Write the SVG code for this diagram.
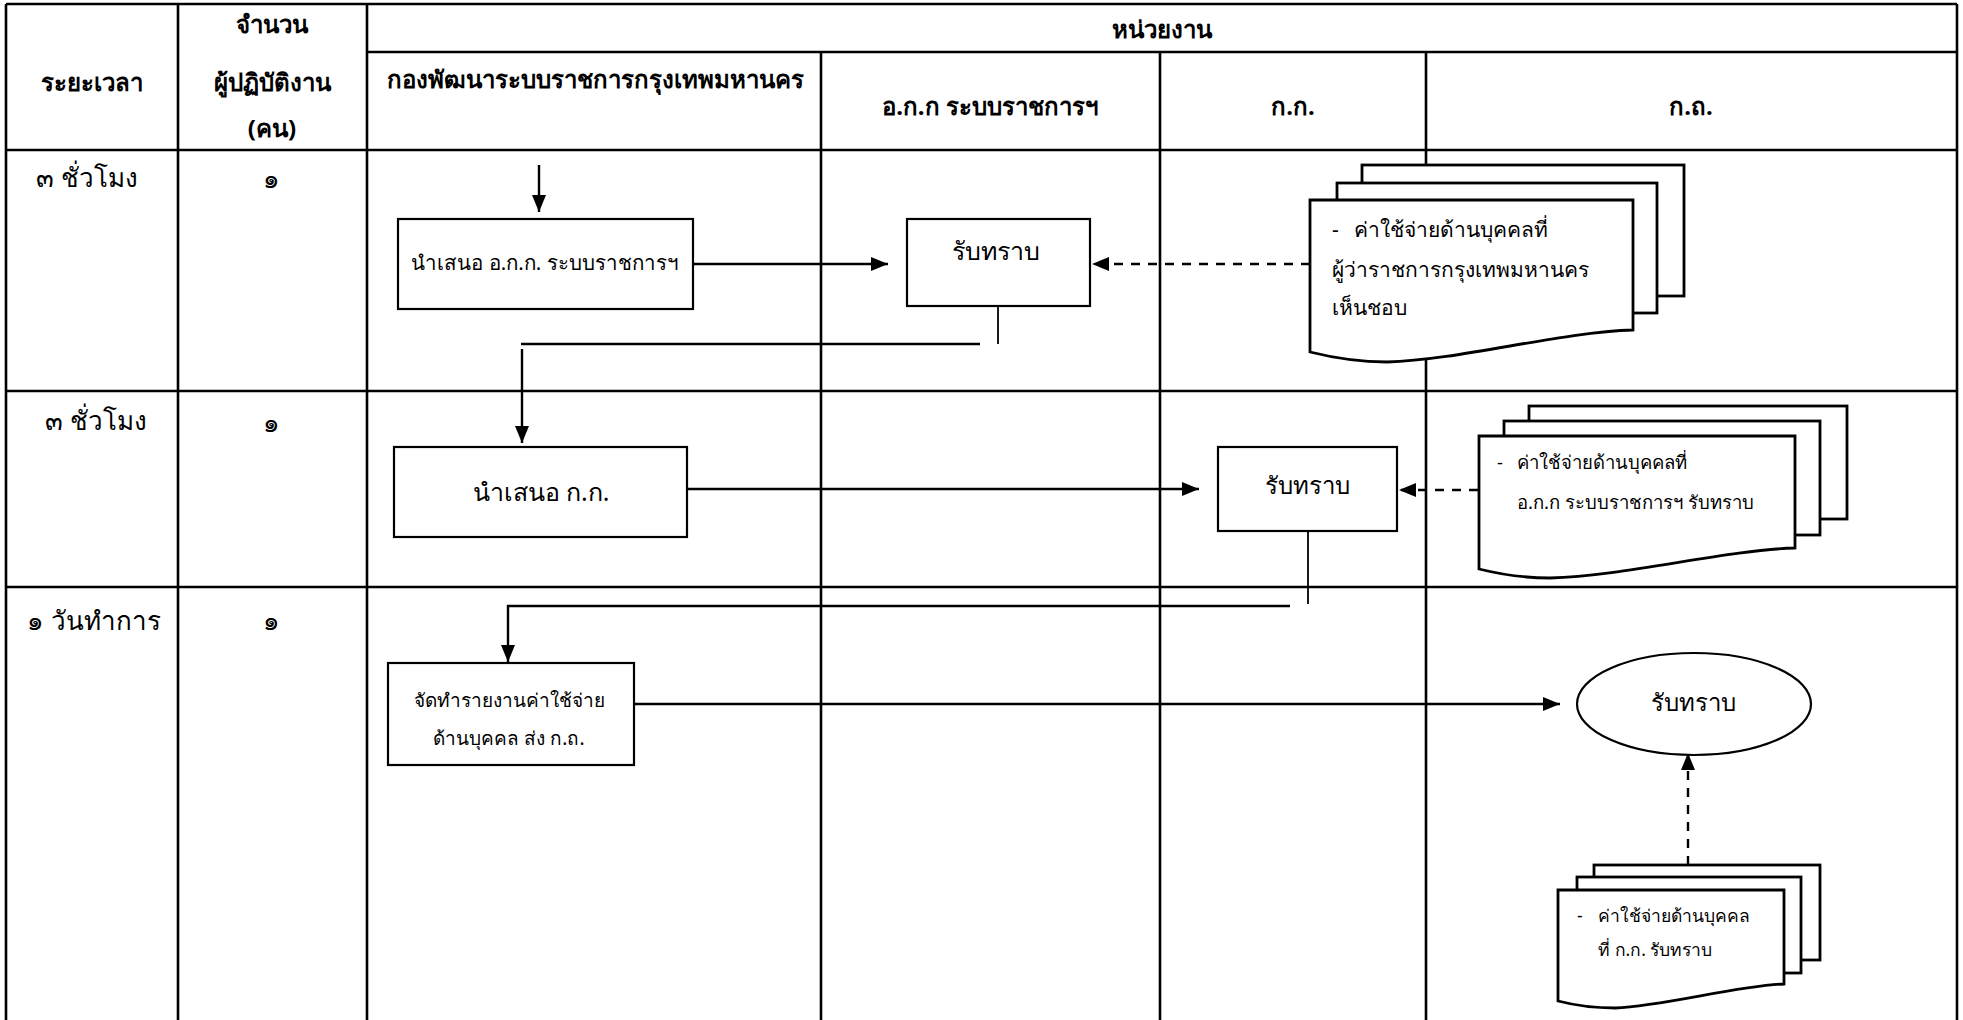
<svg xmlns="http://www.w3.org/2000/svg" width="1963" height="1020" viewBox="0 0 1963 1020">
  <style>
    .grid { stroke: #000; stroke-width: 2.6; fill: none; }
    .box { fill: #fff; stroke: #000; stroke-width: 2.2; }
    .doc { fill: #fff; stroke: #000; stroke-width: 2.8; }
    .flow { stroke: #000; stroke-width: 2.4; fill: none; }
    .thin { stroke: #000; stroke-width: 1.8; fill: none; }
    .dash { stroke-dasharray: 9 8; }
    text { font-family: "Noto Sans", "DejaVu Sans", sans-serif; fill: #000; }
    .hd { font-size: 24px; font-weight: bold; text-anchor: middle; }
    .lbl { font-size: 26px; }
    .mid { text-anchor: middle; }
    .t25 { font-size: 25px; }
    .t24 { font-size: 24px; }
    .t21 { font-size: 21px; }
    .t20 { font-size: 20.5px; }
    .t19 { font-size: 19px; }
    .t18 { font-size: 18.5px; }
    .t17 { font-size: 17.5px; }
  </style>
  <defs>
    <marker id="arrow" markerUnits="userSpaceOnUse" markerWidth="18" markerHeight="14" refX="17" refY="7" orient="auto">
      <path d="M0,0 L17,7 L0,14 Z" fill="#000"/>
    </marker>
  </defs>

  <rect x="0" y="0" width="1963" height="1020" fill="#fff"/>

  <!-- table grid -->
  <g id="grid" class="grid">
    <line x1="6" y1="4" x2="1957" y2="4"/>
    <line x1="6" y1="4" x2="6" y2="1020"/>
    <line x1="1957" y1="4" x2="1957" y2="1020"/>
    <line x1="178" y1="4" x2="178" y2="1020"/>
    <line x1="367" y1="4" x2="367" y2="1020"/>
    <line x1="821" y1="52" x2="821" y2="1020"/>
    <line x1="1160" y1="52" x2="1160" y2="1020"/>
    <line x1="1426" y1="52" x2="1426" y2="1020"/>
    <line x1="367" y1="52" x2="1957" y2="52"/>
    <line x1="6" y1="150" x2="1957" y2="150"/>
    <line x1="6" y1="391" x2="1957" y2="391"/>
    <line x1="6" y1="587" x2="1957" y2="587"/>
  </g>

  <!-- header texts -->
  <g id="header">
    <text class="hd" x="92" y="91">ระยะเวลา</text>
    <text class="hd" x="272" y="33">จำนวน</text>
    <text class="hd" x="272" y="91">ผู้ปฏิบัติงาน</text>
    <text class="hd" x="272" y="137">(คน)</text>
    <text class="hd" x="1162" y="38">หน่วยงาน</text>
    <text class="hd" x="595" y="88">กองพัฒนาระบบราชการกรุงเทพมหานคร</text>
    <text class="hd" x="990" y="115">อ.ก.ก ระบบราชการฯ</text>
    <text class="hd" x="1293" y="115">ก.ก.</text>
    <text class="hd" x="1691" y="115">ก.ถ.</text>
  </g>

  <!-- row labels: duration and staff count -->
  <g id="rows" class="lbl">
    <text x="36" y="187">๓ ชั่วโมง</text>
    <text class="mid" x="271" y="188">๑</text>
    <text x="45" y="430">๓ ชั่วโมง</text>
    <text class="mid" x="271" y="432">๑</text>
    <text x="27" y="630">๑ วันทำการ</text>
    <text class="mid" x="271" y="630">๑</text>
  </g>

  <!-- connectors -->
  <g id="connectors">
    <path class="flow" d="M539,165 V212" marker-end="url(#arrow)"/>
    <path class="flow" d="M693,264 H888" marker-end="url(#arrow)"/>
    <path class="flow dash" d="M1310,264 H1092" marker-end="url(#arrow)"/>
    <path class="thin" d="M998,306 V344"/>
    <path class="flow" d="M521,344 H980"/>
    <path class="flow" d="M522,349 V443" marker-end="url(#arrow)"/>
    <path class="flow" d="M687,489 H1199" marker-end="url(#arrow)"/>
    <path class="flow dash" d="M1478,490 H1399" marker-end="url(#arrow)"/>
    <path class="thin" d="M1308,531 V604"/>
    <path class="flow" d="M1290,606 H508 V662" marker-end="url(#arrow)"/>
    <path class="flow" d="M629,704 H1560" marker-end="url(#arrow)"/>
    <path class="flow dash" d="M1688,865 V753" marker-end="url(#arrow)"/>
  </g>

  <!-- row 1 -->
  <g id="n-present-okk">
    <rect class="box" x="398" y="219" width="295" height="90"/>
    <text class="t20 mid" x="545" y="270">นำเสนอ อ.ก.ก. ระบบราชการฯ</text>
  </g>
  <g id="n-okk-ack">
    <rect class="box" x="907" y="219" width="183" height="87"/>
    <text class="t25 mid" x="996" y="260">รับทราบ</text>
  </g>
  <g id="n-doc-approved">
    <rect class="doc" x="1362" y="165" width="322" height="131"/>
    <rect class="doc" x="1337" y="183" width="320" height="130"/>
    <path class="doc" d="M1310,200 H1633 V330 C1560,332 1460,360 1387,362 Q1350,362 1310,352 Z"/>
    <text class="t21" y="237"><tspan x="1332">-</tspan><tspan x="1354">ค่าใช้จ่ายด้านบุคคลที่</tspan></text>
    <text class="t21" x="1332" y="277">ผู้ว่าราชการกรุงเทพมหานคร</text>
    <text class="t21" x="1332" y="315">เห็นชอบ</text>
  </g>

  <!-- row 2 -->
  <g id="n-present-kk">
    <rect class="box" x="394" y="447" width="293" height="90"/>
    <text class="t25 mid" x="541" y="501">นำเสนอ ก.ก.</text>
  </g>
  <g id="n-kk-ack">
    <rect class="box" x="1218" y="447" width="179" height="84"/>
    <text class="t24 mid" x="1307" y="494">รับทราบ</text>
  </g>
  <g id="n-doc-okk">
    <rect class="doc" x="1529" y="406" width="318" height="113"/>
    <rect class="doc" x="1504" y="421" width="316" height="114"/>
    <path class="doc" d="M1479,436 H1795 V548 C1725,550 1625,576 1550,578 Q1515,578 1479,569 Z"/>
    <text class="t18" y="469"><tspan x="1497">-</tspan><tspan x="1517">ค่าใช้จ่ายด้านบุคคลที่</tspan></text>
    <text class="t18" x="1517" y="509">อ.ก.ก ระบบราชการฯ รับทราบ</text>
  </g>

  <!-- row 3 -->
  <g id="n-report">
    <rect class="box" x="388" y="663" width="246" height="102"/>
    <text class="t19 mid" x="509" y="707">จัดทำรายงานค่าใช้จ่าย</text>
    <text class="t19 mid" x="509" y="745">ด้านบุคคล ส่ง ก.ถ.</text>
  </g>
  <g id="n-kt-ack">
    <ellipse class="box" cx="1694" cy="704" rx="117" ry="51"/>
    <text class="t24 mid" x="1693" y="711">รับทราบ</text>
  </g>
  <g id="n-doc-kk">
    <rect class="doc" x="1594" y="865" width="226" height="95"/>
    <rect class="doc" x="1577" y="877" width="224" height="96"/>
    <path class="doc" d="M1558,890 H1784 V984 C1735,986 1665,1006 1615,1008 Q1585,1008 1558,1001 Z"/>
    <text class="t17" y="922"><tspan x="1577">-</tspan><tspan x="1598">ค่าใช้จ่ายด้านบุคคล</tspan></text>
    <text class="t17" x="1598" y="956">ที่ ก.ก. รับทราบ</text>
  </g>
</svg>
